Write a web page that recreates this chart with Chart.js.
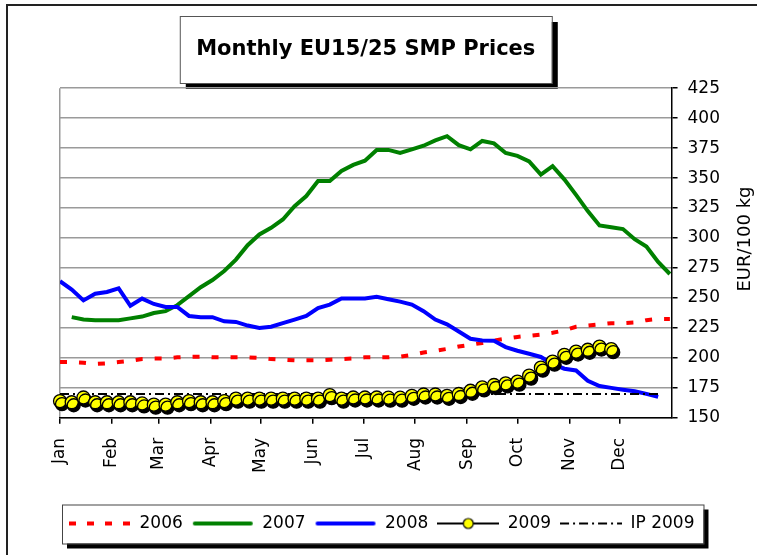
<!DOCTYPE html>
<html>
<head>
<meta charset="utf-8">
<title>Monthly EU15/25 SMP Prices</title>
<script src="https://cdn.jsdelivr.net/npm/chart.js@4.4.1/dist/chart.umd.min.js"></script>
<style>
  html, body { margin: 0; padding: 0; background: #fff; }
  canvas { display: block; }
</style>
</head>
<body>
<canvas id="smpChart" width="757" height="555"></canvas>
<script>
// month ticks (day of year where each month starts)
var monthLabels = ['Jan', 'Feb', 'Mar', 'Apr', 'May', 'Jun', 'Jul', 'Aug', 'Sep', 'Oct', 'Nov', 'Dec'];
var monthStartDays = [0, 31, 59, 90, 120, 151, 181, 212, 243, 273, 304, 334];
var yTicks = [150, 175, 200, 225, 250, 275, 300, 325, 350, 375, 400, 425];

// weekly prices, EUR/100 kg (first week of each series given by *StartWeek)
var prices2006StartWeek = 0;
var prices2006 = [196.5, 196.5, 196, 195, 195.5, 196.5, 197.5, 199, 199.5, 199.5,
  200.5, 201, 201, 200.5, 200.5, 200.5, 200.5, 200, 199, 198.5,
  198, 198, 198, 198.5, 199, 199.5, 200.5, 200.5, 200.5, 201,
  202.5, 204.5, 206, 207.5, 209.5, 211, 212.5, 214.5, 216, 217.5,
  218.5, 219.5, 221, 223, 226, 227, 228, 229, 229, 229.5,
  231.5, 232.5, 232.5];

var prices2007StartWeek = 1;
var prices2007 = [234, 232, 231.5, 231.5, 231.5, 233, 234.5, 237.5, 239, 244,
  251.5, 259, 265, 272.5, 282, 294, 303, 308.5, 315.5, 326.5,
  335, 347.5, 347.5, 356, 361, 364.5, 373.5, 373.5, 371, 374,
  377, 381.5, 385, 377.5, 374, 381, 379, 371, 368.5, 364,
  353, 360, 349, 336, 322.5, 310.5, 309, 307.5, 299, 293,
  280, 270];

var prices2008StartWeek = 0;
var prices2008 = [264, 257, 248, 253.5, 255, 258, 243.5, 249.5, 245, 242.5,
  242.5, 235, 234, 234, 230.5, 230, 227, 225, 226, 229,
  232, 235, 241.5, 244.5, 249.5, 249.5, 249.5, 251, 249, 247,
  244.5, 239, 232, 228, 222, 216, 214.5, 214.3, 209, 206,
  203.5, 200.8, 195, 191, 189.5, 181, 176.5, 175, 173.5, 172.2,
  170, 167.5];

var prices2009StartWeek = 0;
var prices2009 = [164, 163, 167, 163, 163, 163, 163, 162, 161, 161,
  163, 164, 163, 163, 164, 166, 166, 166, 166, 166,
  166, 166, 166, 169, 166, 167, 167, 167, 166.8, 166.8,
  168.4, 169.5, 169.5, 168.4, 169.9, 172.6, 175.4, 177.4, 178.8, 180.2,
  185.2, 191.9, 196.9, 202.6, 205.3, 206.8, 209.5, 207.3];

// intervention price 2009 (flat line)
var ipDays = [0, 357];
var ipValues = [169.8, 169.8];

var FONT = "'DejaVu Sans', sans-serif";

function weekly(values, startWeek) {
    return values.map(function (v, i) { return { x: (startWeek + i) * 7, y: v }; });
}

// small line samples for the legend
function sample(draw) {
    var c = document.createElement('canvas');
    c.width = 62;
    c.height = 16;
    var g = c.getContext('2d');
    draw(g);
    return c;
}
var legendSamples = [
    sample(function (g) { g.strokeStyle = '#ff0000'; g.lineWidth = 4; g.setLineDash([7, 11]); g.beginPath(); g.moveTo(0, 8); g.lineTo(62, 8); g.stroke(); }),
    sample(function (g) { g.strokeStyle = '#008000'; g.lineWidth = 4; g.lineCap = 'round'; g.beginPath(); g.moveTo(3, 8); g.lineTo(59, 8); g.stroke(); }),
    sample(function (g) { g.strokeStyle = '#0000ff'; g.lineWidth = 4; g.lineCap = 'round'; g.beginPath(); g.moveTo(3, 8); g.lineTo(59, 8); g.stroke(); }),
    sample(function (g) {
        g.strokeStyle = '#000'; g.lineWidth = 2; g.beginPath(); g.moveTo(0, 8); g.lineTo(62, 8); g.stroke();
        g.fillStyle = '#ffff00'; g.lineWidth = 1.2; g.beginPath(); g.arc(31, 8, 5, 0, Math.PI * 2); g.fill(); g.stroke();
    }),
    sample(function (g) { g.strokeStyle = '#000'; g.lineWidth = 2; g.setLineDash([9, 4, 2, 4]); g.beginPath(); g.moveTo(0, 8); g.lineTo(62, 8); g.stroke(); })
];

// boxes with drop shadow, frame, right axis title
var decorations = {
    id: 'decorations',
    beforeDraw: function (chart) {
        var ctx = chart.ctx;
        var area = chart.chartArea;
        ctx.save();
        // outer frame (left and top edges)
        ctx.strokeStyle = '#222';
        ctx.lineWidth = 2;
        ctx.beginPath();
        ctx.moveTo(7, 600);
        ctx.lineTo(7, 5);
        ctx.lineTo(800, 5);
        ctx.stroke();

        // title box
        var cx = (area.left + area.right) / 2;
        var tx = cx - 186, ty = 16, tw = 372, th = 67;
        ctx.fillStyle = '#000';
        ctx.fillRect(tx + 6, ty + 6, tw, th);
        ctx.fillStyle = '#fff';
        ctx.fillRect(tx, ty, tw, th);
        ctx.strokeStyle = '#555';
        ctx.lineWidth = 1;
        ctx.strokeRect(tx + 0.5, ty + 0.5, tw, th);

        // legend box
        var boxes = chart.legend.legendHitBoxes;
        if (boxes && boxes.length) {
            var l = boxes[0].left - 7;
            var last = boxes[boxes.length - 1];
            var r = last.left + last.width + 9;
            var cy = boxes[0].top + boxes[0].height / 2;
            var t = cy - 19, h = 39;
            ctx.fillStyle = '#000';
            ctx.fillRect(l + 5, t + 5, r - l, h);
            ctx.fillStyle = '#fff';
            ctx.fillRect(l, t, r - l, h);
            ctx.strokeStyle = '#444';
            ctx.strokeRect(l + 0.5, t + 0.5, r - l, h);
        }
        ctx.restore();
    },
    afterDraw: function (chart) {
        var ctx = chart.ctx;
        var area = chart.chartArea;
        ctx.save();
        ctx.translate(745, (area.top + area.bottom) / 2 - 14);
        ctx.rotate(-Math.PI / 2);
        ctx.font = '18px ' + FONT;
        ctx.fillStyle = '#000';
        ctx.textAlign = 'center';
        ctx.textBaseline = 'middle';
        ctx.fillText('EUR/100 kg', 0, 0);
        ctx.restore();
    },
    // shadow under the 2009 markers
    beforeDatasetDraw: function (chart, args) {
        if (chart.data.datasets[args.index].label === '2009') {
            chart.ctx.save();
            chart.ctx.shadowColor = '#000';
            chart.ctx.shadowOffsetX = 2;
            chart.ctx.shadowOffsetY = 3;
            chart.ctx.shadowBlur = 0;
        }
    },
    afterDatasetDraw: function (chart, args) {
        if (chart.data.datasets[args.index].label === '2009') {
            chart.ctx.restore();
        }
    }
};

var ctx = document.getElementById('smpChart').getContext('2d');

var smpChart = new Chart(ctx, {
    type: 'line',
    data: {
        datasets: [{
            label: '2006',
            data: weekly(prices2006, prices2006StartWeek),
            borderColor: '#ff0000',
            borderWidth: 4,
            borderDash: [7, 12],
            pointRadius: 0,
            order: 5
        }, {
            label: '2007',
            data: weekly(prices2007, prices2007StartWeek),
            borderColor: '#008000',
            borderWidth: 4,
            pointRadius: 0,
            order: 4
        }, {
            label: '2008',
            data: weekly(prices2008, prices2008StartWeek),
            borderColor: '#0000ff',
            borderWidth: 4,
            pointRadius: 0,
            order: 3
        }, {
            label: '2009',
            data: weekly(prices2009, prices2009StartWeek),
            borderColor: '#000',
            borderWidth: 2,
            pointRadius: 6.5,
            pointBackgroundColor: '#ffff00',
            pointBorderColor: '#000',
            pointBorderWidth: 1.3,
            clip: false,
            order: 1
        }, {
            label: 'IP 2009',
            data: ipDays.map(function (d, i) { return { x: d, y: ipValues[i] }; }),
            borderColor: '#000',
            borderWidth: 2,
            borderDash: [9, 4, 2, 4],
            pointRadius: 0,
            order: 2
        }]
    },
    options: {
        responsive: false,
        animation: false,
        layout: {
            padding: { left: 60, right: 27, top: 0, bottom: 13 }
        },
        elements: { line: { tension: 0 } },
        scales: {
            x: {
                type: 'linear',
                min: 0,
                max: 365,
                afterBuildTicks: function (scale) {
                    scale.ticks = monthStartDays.map(function (d) { return { value: d }; });
                },
                // leave room between the month labels and the legend
                afterFit: function (scale) {
                    scale.height += 19;
                },
                ticks: {
                    autoSkip: false,
                    minRotation: 90,
                    maxRotation: 90,
                    padding: 14,
                    color: '#000',
                    font: { family: FONT, size: 17 },
                    callback: function (value) { return monthLabels[monthStartDays.indexOf(value)]; }
                },
                grid: {
                    color: function (c) { return c.tick && c.tick.value === 0 ? '#9a9a9a' : 'rgba(0,0,0,0)'; },
                    tickColor: '#000',
                    tickLength: 6,
                    lineWidth: 1.5
                },
                border: { color: '#000', width: 1.5 }
            },
            y: {
                position: 'right',
                min: 150,
                max: 425,
                afterBuildTicks: function (scale) {
                    scale.ticks = yTicks.map(function (v) { return { value: v }; });
                },
                ticks: {
                    padding: 10,
                    color: '#000',
                    font: { family: FONT, size: 17 }
                },
                grid: {
                    color: '#9a9a9a',
                    tickColor: '#000',
                    tickLength: 6,
                    lineWidth: 1.5
                },
                border: { color: '#000', width: 1.5 }
            }
        },
        plugins: {
            title: {
                display: true,
                text: 'Monthly EU15/25 SMP Prices',
                fullSize: false,
                color: '#000',
                font: { family: FONT, size: 21, weight: 'bold' },
                padding: { top: 37, bottom: 26 }
            },
            legend: {
                position: 'bottom',
                align: 'start',
                labels: {
                    usePointStyle: true,
                    pointStyleWidth: 62,
                    padding: 9,
                    color: '#000',
                    font: { family: FONT, size: 17 },
                    sort: function (a, b) { return a.datasetIndex - b.datasetIndex; },
                    generateLabels: function (chart) {
                        var items = Chart.defaults.plugins.legend.labels.generateLabels(chart);
                        items.forEach(function (item) {
                            item.pointStyle = legendSamples[item.datasetIndex];
                        });
                        return items;
                    }
                }
            },
            tooltip: { enabled: false }
        }
    },
    plugins: [decorations]
});
</script>
</body>
</html>
